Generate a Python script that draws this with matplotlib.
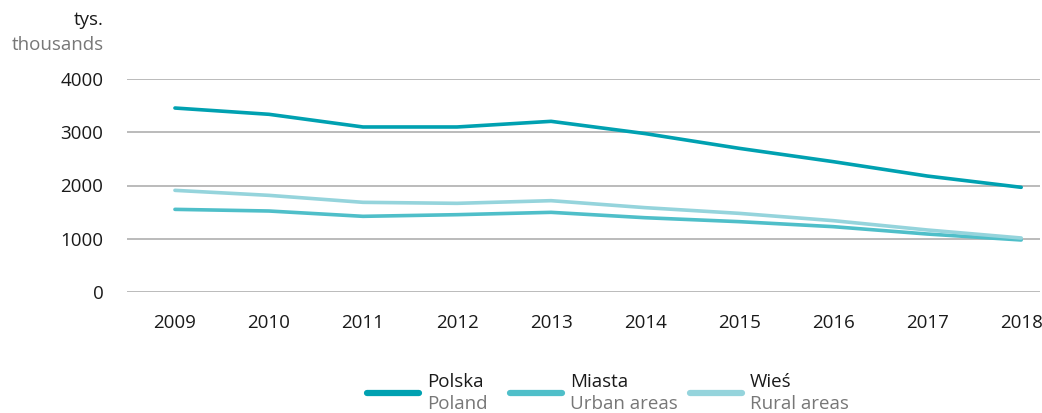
import matplotlib
matplotlib.use("Agg")
import matplotlib.pyplot as plt
from matplotlib.lines import Line2D

years = [2009, 2010, 2011, 2012, 2013, 2014, 2015, 2016, 2017, 2018]
polska = [3455, 3337, 3099, 3099, 3205, 2975, 2698, 2448, 2178, 1966]
miasta = [1552, 1521, 1421, 1452, 1496, 1395, 1321, 1227, 1089, 977]
wies = [1909, 1815, 1684, 1665, 1715, 1584, 1477, 1340, 1165, 1014]
labels_pl = ["Polska", "Miasta", "Wieś"]
labels_en = ["Poland", "Urban areas", "Rural areas"]
colors = ["#00A1B1", "#4FBFC9", "#95D4DC"]
yticks = [0, 1000, 2000, 3000, 4000]

plt.rcParams['font.family'] = ['Open Sans', 'DejaVu Sans']
FS = 13.5

W, H = 1042, 413
fig = plt.figure(figsize=(W / 100, H / 100), dpi=100)
ax = fig.add_axes([127 / W, 1 - 292 / H, (1040 - 127) / W, (292 - 79) / H])

series = [polska, miasta, wies]
for vals, c in zip(series, colors):
    ax.plot(years, vals, color=c, lw=2.6, solid_capstyle='round', solid_joinstyle='round', zorder=3)

ax.set_ylim(0, 4000)
ax.set_xlim(2008.49, 2018.2)
ax.set_yticks(yticks)
ax.set_yticklabels([str(v) for v in yticks], fontsize=FS)
ax.set_xticks(years)
ax.set_xticklabels([str(y) for y in years], fontsize=FS)
ax.tick_params(axis='both', length=0, colors='#1a1a1a')
ax.tick_params(axis='y', pad=17)
ax.tick_params(axis='x', pad=16)
for s in ax.spines.values():
    s.set_visible(False)
ax.grid(axis='y', color='#a8a8a8', lw=1.1, zorder=1)
ax.grid(axis='x', visible=False)

fig.text(104 / W, 1 - 20 / H, "tys.", ha='right', va='center', fontsize=FS, color='#1a1a1a')
fig.text(104 / W, 1 - 45 / H, "thousands", ha='right', va='center', fontsize=FS, color='#777777')

leg_x = [367, 510, 690]
line_len = 52
for x0, c, lp, le in zip(leg_x, colors, labels_pl, labels_en):
    fig.add_artist(Line2D([x0 / W, (x0 + line_len) / W], [1 - 393 / H, 1 - 393 / H],
                          color=c, lw=4.5, solid_capstyle='round', transform=fig.transFigure))
    tx = x0 + line_len + 8
    fig.text(tx / W, 1 - 382 / H, lp, ha='left', va='center', fontsize=FS, color='#1a1a1a')
    fig.text(tx / W, 1 - 404 / H, le, ha='left', va='center', fontsize=FS, color='#777777')

fig.savefig("out.png", dpi=100)
